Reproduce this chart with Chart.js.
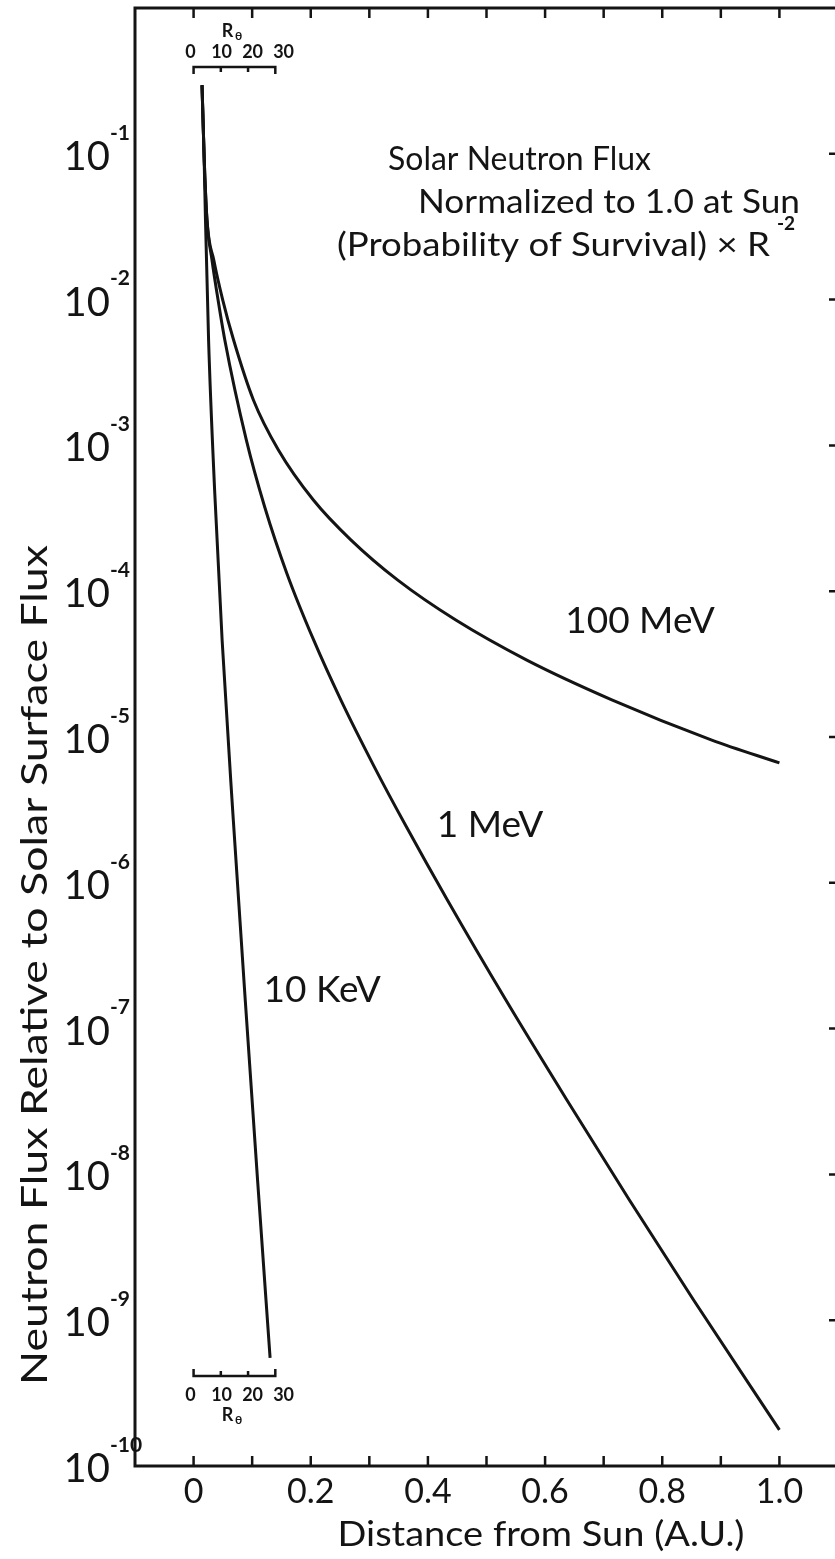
<!DOCTYPE html>
<html>
<head>
<meta charset="utf-8">
<title>Solar Neutron Flux</title>
<script src="https://cdn.jsdelivr.net/npm/chart.js@4.4.1/dist/chart.umd.min.js"></script>
<style>
  html, body { margin: 0; padding: 0; background: #fff; overflow: hidden; }
  #wrap { width: 835px; height: 1559px; overflow: hidden; }
  canvas { display: block; }
</style>
</head>
<body>
<div id="wrap"><canvas id="flux" width="845" height="1559"></canvas></div>
<script>
'use strict';

// distance from the Sun (A.U.) and flux relative to the solar surface flux
const dist10keV = [0.0144, 0.0178, 0.0203, 0.0256, 0.0359, 0.0487, 0.0678, 0.0882, 0.1092, 0.1306];
const flux10keV = [2.96e-1, 1.01e-1, 3.52e-2, 5.28e-3, 4.94e-4, 4.63e-5, 2.70e-6, 1.57e-7, 9.16e-9, 5.51e-10];

const dist1MeV = [0.0144, 0.0178, 0.0229, 0.0314, 0.0399, 0.0533, 0.0900, 0.1214, 0.1591, 0.2049, 0.2515,
  0.3087, 0.3616, 0.4332, 0.5331, 0.6372, 0.7439, 0.8532, 1.0];
const flux1MeV = [2.96e-1, 1.01e-1, 3.52e-2, 1.87e-2, 1.11e-2, 5.28e-3, 1.09e-3, 3.78e-4, 1.33e-4, 4.63e-5, 1.79e-5,
  6.22e-6, 2.49e-6, 7.62e-7, 1.57e-7, 3.24e-8, 6.67e-9, 1.38e-9, 1.77e-10];

const dist100MeV = [0.0144, 0.0178, 0.0229, 0.0345, 0.0498, 0.0683, 0.1021, 0.1448, 0.2045, 0.2684, 0.3486,
  0.4476, 0.5688, 0.7139, 0.8846, 1.0];
const flux100MeV = [2.96e-1, 1.01e-1, 3.52e-2, 1.87e-2, 9.93e-3, 5.28e-3, 2.05e-3, 9.3e-4, 4.22e-4, 2.25e-4, 1.19e-4,
  6.34e-5, 3.37e-5, 1.80e-5, 9.53e-6, 6.64e-6];

const curveNames = ['10 KeV', '1 MeV', '100 MeV'];
const xTickLabels = ['0', '0.2', '0.4', '0.6', '0.8', '1.0'];
const yExponents = [-1, -2, -3, -4, -5, -6, -7, -8, -9, -10];
const rSunMarks = [0, 10, 20, 30];
const AU_PER_RSUN = 0.00465;

const INK = '#141414';
const FONT = 'Lato, "DejaVu Sans", sans-serif';

// where each curve name sits, in (A.U., flux)
const nameAnchors = [[0.2196, 1.84e-7], [0.506, 2.5e-6], [0.762, 6.25e-5]];

function toPoints(d, f) {
  return d.map((v, i) => ({ x: v, y: f[i] }));
}

function curve(label, d, f) {
  return {
    label: label,
    data: toPoints(d, f),
    borderColor: INK,
    borderWidth: 3,
    pointRadius: 0,
    fill: false,
    cubicInterpolationMode: 'monotone'
  };
}

function setFont(ctx, size, weight) {
  ctx.font = (weight || 'normal') + ' ' + size + 'px ' + FONT;
}

// draw text stretched to a given width; x is the left edge, or the centre when centred
function stretchText(ctx, text, x, y, size, width, opts) {
  opts = opts || {};
  ctx.save();
  setFont(ctx, size, opts.weight);
  const w = ctx.measureText(text).width;
  ctx.translate(x, y);
  if (opts.angle) ctx.rotate(opts.angle);
  ctx.scale(width / w, 1);
  ctx.textAlign = opts.center ? 'center' : 'left';
  ctx.textBaseline = 'middle';
  ctx.fillText(text, 0, 0);
  ctx.restore();
}

// little solar-radius rulers at both ends of the 10 KeV curve
function rSunRuler(ctx, xs, yLine, dir) {
  const x0 = xs.getPixelForValue(0);
  const x1 = xs.getPixelForValue(rSunMarks[rSunMarks.length - 1] * AU_PER_RSUN);
  ctx.lineWidth = 2.5;
  ctx.beginPath();
  ctx.moveTo(x0, yLine + dir * 7);
  ctx.lineTo(x0, yLine);
  ctx.lineTo(x1, yLine);
  ctx.lineTo(x1, yLine + dir * 7);
  rSunMarks.slice(1, -1).forEach(r => {
    const px = xs.getPixelForValue(r * AU_PER_RSUN);
    ctx.moveTo(px, yLine);
    ctx.lineTo(px, yLine + dir * 5);
  });
  ctx.stroke();

  // the numbers spread a little wider than the marks
  setFont(ctx, 18, 'bold');
  ctx.textAlign = 'center';
  ctx.textBaseline = 'middle';
  const yNum = yLine - dir * (dir > 0 ? 15 : 19);
  rSunMarks.forEach((r, i) => {
    ctx.fillText(String(r), x0 - 3 + i * 31, yNum);
  });
  const yR = yLine - dir * (dir > 0 ? 36 : 39);
  const xR = x0 + 38;
  ctx.fillText('R', xR - 4, yR);
  setFont(ctx, 12, 'bold');
  ctx.fillText('θ', xR + 7, yR + 5);
}

const decorations = {
  id: 'decorations',
  afterDatasetsDraw(chart) {
    const { ctx, chartArea: a, scales: { x, y } } = chart;
    ctx.save();
    ctx.strokeStyle = INK;
    ctx.fillStyle = INK;
    ctx.lineCap = 'butt';

    // frame
    ctx.lineWidth = 3;
    ctx.strokeRect(a.left, a.top, a.right - a.left, a.bottom - a.top);

    // inward ticks: every 0.1 A.U. top and bottom, each decade on the right
    ctx.lineWidth = 2.5;
    ctx.beginPath();
    for (let i = 0; i <= 10; i++) {
      const px = x.getPixelForValue(i / 10);
      ctx.moveTo(px, a.bottom);
      ctx.lineTo(px, a.bottom - 10);
      ctx.moveTo(px, a.top);
      ctx.lineTo(px, a.top + 10);
    }
    yExponents.slice(0, -1).forEach(e => {
      const py = y.getPixelForValue(Math.pow(10, e));
      ctx.moveTo(a.right, py);
      ctx.lineTo(a.right - 9, py);
    });
    ctx.stroke();

    // decade labels with raised exponents
    yExponents.forEach(e => {
      const py = y.getPixelForValue(Math.pow(10, e));
      setFont(ctx, 40);
      ctx.textAlign = 'right';
      ctx.textBaseline = 'middle';
      ctx.fillText('10', 110, py + 3);
      setFont(ctx, 21, 'bold');
      ctx.textAlign = 'left';
      ctx.fillText(String(e), 110, py - 21);
    });

    // axis titles
    stretchText(ctx, 'Neutron Flux Relative to Solar Surface Flux', 35, 965, 36, 840,
      { angle: -Math.PI / 2, center: true });
    stretchText(ctx, 'Distance from Sun (A.U.)', 541, 1535, 34, 407, { center: true });

    // heading
    stretchText(ctx, 'Solar Neutron Flux', 388, 160, 32, 263);
    stretchText(ctx, 'Normalized to 1.0 at Sun', 418, 203, 32, 382);
    stretchText(ctx, '(Probability of Survival) × R', 337, 246, 32, 433);
    setFont(ctx, 19, 'bold');
    ctx.textAlign = 'left';
    ctx.textBaseline = 'middle';
    ctx.fillText('-2', 777, 224);

    // curve names
    curveNames.forEach((name, i) => {
      setFont(ctx, 37);
      ctx.textAlign = 'center';
      ctx.textBaseline = 'middle';
      ctx.fillText(name, x.getPixelForValue(nameAnchors[i][0]), y.getPixelForValue(nameAnchors[i][1]));
    });

    rSunRuler(ctx, x, a.top + 59, 1);
    rSunRuler(ctx, x, a.bottom - 90, -1);

    ctx.restore();
  }
};

new Chart(document.getElementById('flux'), {
  type: 'line',
  data: {
    datasets: [
      curve(curveNames[0], dist10keV, flux10keV),
      curve(curveNames[1], dist1MeV, flux1MeV),
      curve(curveNames[2], dist100MeV, flux100MeV)
    ]
  },
  options: {
    responsive: false,
    animation: false,
    devicePixelRatio: 1,
    layout: { padding: { top: 8, right: 7, left: 0, bottom: 0 } },
    plugins: { legend: { display: false }, tooltip: { enabled: false } },
    scales: {
      x: {
        type: 'linear',
        min: -0.1,
        max: 1.1,
        grid: { display: false, drawTicks: false },
        border: { display: false },
        ticks: {
          stepSize: 0.1,
          autoSkip: false,
          maxRotation: 0,
          padding: 6,
          color: INK,
          font: { family: FONT, size: 34 },
          callback: v => {
            const i = Math.round(v * 10);
            return (i >= 0 && i <= 10 && i % 2 === 0) ? xTickLabels[i / 2] : '';
          }
        },
        afterFit: s => { s.height = 93; }
      },
      y: {
        type: 'logarithmic',
        min: 1e-10,
        max: 1,
        grid: { display: false, drawTicks: false },
        border: { display: false },
        ticks: { display: false },
        afterFit: s => { s.width = 135; }
      }
    }
  },
  plugins: [decorations]
});
</script>
</body>
</html>
